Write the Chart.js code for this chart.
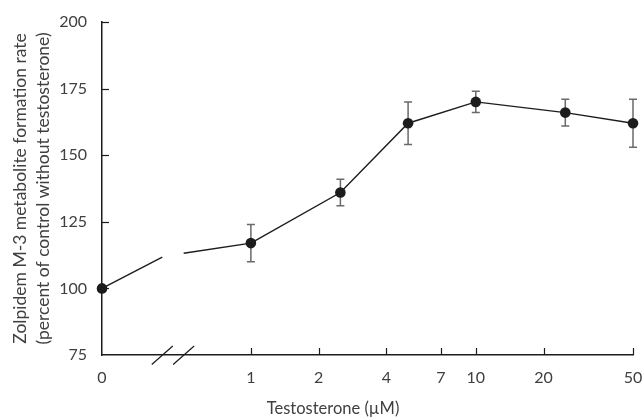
<!DOCTYPE html>
<html><head><meta charset="utf-8">
<script src="https://cdn.jsdelivr.net/npm/chart.js@4.4.1/dist/chart.umd.min.js"></script>
<style>html,body{margin:0;padding:0;background:#fff;} #wrap{width:643px;height:419px;position:relative;}</style>
</head><body><div id="wrap"><canvas id="c" width="643" height="419"></canvas></div>
<script>
// ---- data ----
const concentrations = [0, 1, 2.5, 5, 10, 25, 50];           // Testosterone (µM)
const formationRate  = [100, 117, 136, 162, 170, 166, 162];   // % of control
const errorSD        = [0, 7, 5, 8, 4, 5, 9];
const xTickValues    = [0, 1, 2, 4, 7, 10, 20, 50];
const xTickLabels    = ['0', '1', '2', '4', '7', '10', '20', '50'];
const yTickValues    = [75, 100, 125, 150, 175, 200];
const breakGap       = [0.268, 0.363];   // axis-break gap, in axis units
const breakLineRate  = [111.7, 113.2];   // line value at the edges of the gap
const xTitle = 'Testosterone (\u00b5M)';
const yTitle = ['Zolpidem M-3 metabolite formation rate', '(percent of control without testosterone)'];

// broken axis: 0 at origin, then log10 scale
const LOG_OFFSET = 0.662;
const U = c => c === 0 ? 0 : LOG_OFFSET + Math.log10(c);

const mainPoints = concentrations.map((c, i) => ({x: U(c), y: formationRate[i]}));
const connectorPoints = [
  {x: U(concentrations[0]), y: formationRate[0]},
  {x: breakGap[0], y: breakLineRate[0]},
  {x: breakGap[1], y: breakLineRate[1]},
  {x: U(concentrations[1]), y: formationRate[1]}
];

const FONT = 'Lato, "Open Sans", sans-serif';
const TXT = '#404040';
const INK = '#1c1c1c';
Chart.defaults.font.family = FONT;
Chart.defaults.font.size = 16;
Chart.defaults.color = TXT;

const decor = {
  id: 'decor',
  beforeDatasetsDraw(chart) {
    const ctx = chart.ctx, xs = chart.scales.x, ys = chart.scales.y;
    ctx.save();
    ctx.strokeStyle = '#6a6a6a';
    ctx.lineWidth = 1.5;
    concentrations.forEach((c, i) => {
      if (!errorSD[i]) return;
      const px = xs.getPixelForValue(U(c));
      const top = ys.getPixelForValue(formationRate[i] + errorSD[i]);
      const bot = ys.getPixelForValue(formationRate[i] - errorSD[i]);
      ctx.beginPath();
      ctx.moveTo(px, top); ctx.lineTo(px, bot);
      ctx.moveTo(px - 4, top); ctx.lineTo(px + 4, top);
      ctx.moveTo(px - 4, bot); ctx.lineTo(px + 4, bot);
      ctx.stroke();
    });
    ctx.restore();
  },
  afterDraw(chart) {
    const ctx = chart.ctx, xs = chart.scales.x, ys = chart.scales.y, a = chart.chartArea;
    ctx.save();
    ctx.strokeStyle = INK;
    ctx.lineWidth = 1.2;
    // inward ticks
    yTickValues.forEach(v => {
      if (v === yTickValues[0]) return;
      const py = Math.round(ys.getPixelForValue(v)) + 0.5;
      ctx.beginPath(); ctx.moveTo(a.left, py); ctx.lineTo(a.left + 7, py); ctx.stroke();
    });
    xTickValues.forEach(v => {
      if (v === 0) return;
      const px = Math.round(xs.getPixelForValue(U(v))) + 0.5;
      ctx.beginPath(); ctx.moveTo(px, a.bottom); ctx.lineTo(px, a.bottom - 7); ctx.stroke();
    });
    // axis break marks
    breakGap.forEach(g => {
      const px = xs.getPixelForValue(g);
      ctx.beginPath();
      ctx.moveTo(px - 10.5, a.bottom + 9.5);
      ctx.lineTo(px + 10.5, a.bottom - 9);
      ctx.stroke();
    });
    // x title
    ctx.fillStyle = TXT;
    ctx.font = '16.5px ' + FONT;
    ctx.textAlign = 'center';
    ctx.textBaseline = 'alphabetic';
    ctx.fillText(xTitle, a.left + 231, 414);
    ctx.restore();
  }
};

new Chart(document.getElementById('c'), {
  type: 'line',
  data: {
    datasets: [
      {
        label: 'connector',
        data: connectorPoints,
        borderColor: INK,
        borderWidth: 1.4,
        pointRadius: 0,
        tension: 0,
        clip: false,
        segment: { borderColor: c => c.p0DataIndex === 1 ? 'rgba(0,0,0,0)' : INK }
      },
      {
        label: 'Zolpidem M-3 formation',
        data: mainPoints,
        borderColor: INK,
        borderWidth: 1.4,
        pointRadius: 5.3,
        pointBackgroundColor: INK,
        pointBorderWidth: 0,
        tension: 0,
        clip: false,
        segment: { borderColor: c => c.p0DataIndex === 0 ? 'rgba(0,0,0,0)' : INK }
      }
    ]
  },
  options: {
    responsive: false,
    animation: false,
    events: [],
    layout: { padding: { top: 22, right: 10, left: 0, bottom: 0 } },
    plugins: { legend: { display: false }, tooltip: { enabled: false } },
    scales: {
      x: {
        type: 'linear',
        min: 0,
        max: U(xTickValues[xTickValues.length - 1]),
        grid: { display: false, drawTicks: false },
        border: { display: true, color: INK, width: 1.5 },
        afterBuildTicks: s => { s.ticks = xTickValues.map(v => ({value: U(v)})); },
        ticks: {
          autoSkip: false, maxRotation: 0, padding: 13, color: TXT,
          callback: (v, i) => xTickLabels[i]
        },
        afterFit: s => { s.height = 64; s.paddingLeft = 0; s.paddingRight = 0; }
      },
      y: {
        min: yTickValues[0],
        max: yTickValues[yTickValues.length - 1],
        grid: { display: false, drawTicks: false },
        border: { display: true, color: INK, width: 1.5 },
        afterBuildTicks: s => { s.ticks = yTickValues.map(v => ({value: v})); },
        ticks: { padding: 15, color: TXT },
        title: {
          display: true,
          text: yTitle,
          color: TXT,
          font: { size: 17.5, family: FONT, lineHeight: 1.31 },
          padding: { top: 8.5, bottom: 0 }
        },
        afterFit: s => { s.width = 102; s.paddingTop = 0; s.paddingBottom = 0; }
      }
    }
  },
  plugins: [decor]
});
</script>
</body></html>
